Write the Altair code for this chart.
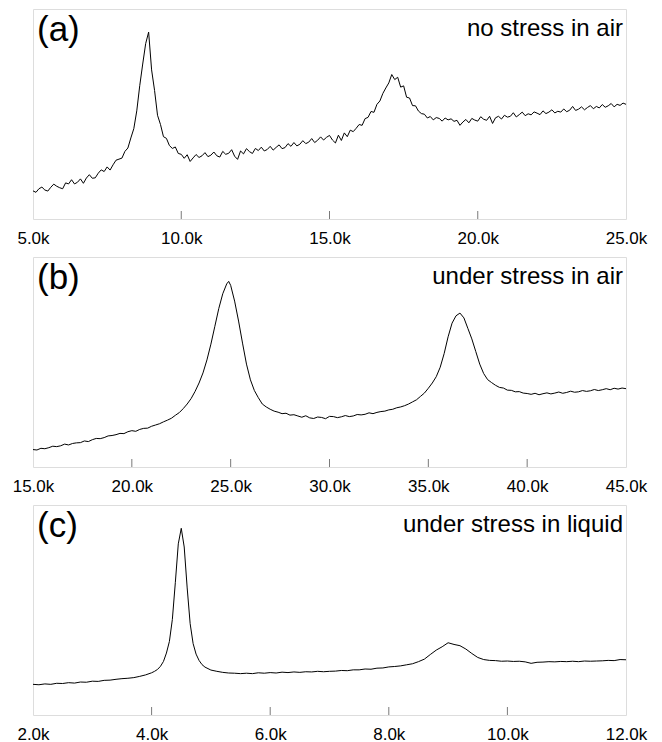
import altair as alt
import pandas as pd

# ---------------- data ----------------
# panel (a): no stress in air, x in k
a_x = [round(5.0 + 0.1 * i, 1) for i in range(201)]
a_y = [13.4, 12.7, 14.4, 15.2, 13.8, 13.3, 15.1, 16.6, 15.6, 14.9,
       14.4, 17.2, 16.7, 18.7, 16.7, 17.5, 19.1, 17.0, 19.5, 21.1,
       19.4, 19.6, 21.8, 23.4, 22.6, 24.8, 23.3, 25.8, 28.0, 28.5,
       29.0, 32.2, 33.8, 38.6, 43.0, 51.5, 63.5, 73.8, 83.5, 89.0,
       71.0, 61.2, 49.4, 45.0, 39.2, 38.4, 35.0, 33.6, 34.3, 31.2,
       30.8, 28.9, 30.6, 27.4, 29.1, 30.7, 29.3, 30.1, 31.6, 29.7,
       30.4, 31.9, 30.1, 29.5, 32.2, 30.8, 31.3, 33.0, 29.9, 28.4,
       32.4, 31.0, 33.5, 32.1, 31.2, 33.6, 32.6, 34.2, 32.4, 33.1,
       34.6, 32.8, 34.1, 35.3, 33.5, 34.0, 35.9, 34.6, 36.4, 34.8,
       35.6, 37.3, 35.9, 36.6, 38.3, 36.4, 37.5, 39.1, 37.6, 38.9,
       39.8, 37.6, 36.2, 39.9, 37.4, 41.0, 39.2, 42.3, 41.6, 43.2,
       45.0, 44.6, 47.8, 48.4, 51.2, 50.8, 54.6, 56.2, 59.8, 62.4,
       64.8, 68.8, 66.4, 67.5, 62.8, 63.4, 58.0, 57.6, 54.0, 53.9,
       51.4, 50.2, 49.9, 48.1, 48.8, 47.2, 48.3, 47.9, 46.6, 48.1,
       47.2, 47.7, 46.5, 47.0, 44.6, 46.2, 47.4, 45.8, 47.9, 47.1,
       46.6, 48.7, 47.5, 47.0, 48.9, 45.5, 48.2, 48.9, 47.6, 49.4,
       48.5, 48.9, 50.6, 48.6, 49.7, 50.9, 49.2, 50.1, 49.6, 51.0,
       50.4, 49.7, 51.5, 50.2, 50.9, 52.0, 50.5, 51.3, 50.9, 52.4,
       51.1, 51.8, 53.6, 51.7, 52.3, 53.4, 52.0, 53.1, 54.0, 52.5,
       53.6, 52.9, 54.5, 53.2, 53.9, 55.0, 53.4, 54.6, 54.1, 55.2,
       54.6]

# panel (b): under stress in air
b_x = [15.0, 15.2, 15.4, 15.6, 15.8, 16.0, 16.2, 16.4, 16.6, 16.8,
       17.0, 17.2, 17.4, 17.6, 17.8, 18.0, 18.2, 18.4, 18.6, 18.8,
       19.0, 19.2, 19.4, 19.6, 19.8, 20.0, 20.2, 20.4, 20.6, 20.8,
       21.0, 21.2, 21.4, 21.6, 21.8, 22.0, 22.2, 22.4, 22.6, 22.8,
       23.0, 23.2, 23.4, 23.6, 23.8, 24.0, 24.2, 24.4, 24.6, 24.8,
       24.9, 25.0, 25.2, 25.4, 25.6, 25.8, 26.0, 26.2, 26.4, 26.6,
       26.8, 27.0, 27.2, 27.4, 27.6, 27.8, 28.0, 28.2, 28.4, 28.6,
       28.8, 29.0, 29.2, 29.4, 29.6, 29.8, 30.0, 30.2, 30.4, 30.6,
       30.8, 31.0, 31.2, 31.4, 31.6, 31.8, 32.0, 32.2, 32.4, 32.6,
       32.8, 33.0, 33.2, 33.4, 33.6, 33.8, 34.0, 34.2, 34.4, 34.6,
       34.8, 35.0, 35.2, 35.4, 35.6, 35.8, 36.0, 36.2, 36.4, 36.6,
       36.8, 37.0, 37.2, 37.4, 37.6, 37.8, 38.0, 38.2, 38.4, 38.6,
       38.8, 39.0, 39.2, 39.4, 39.6, 39.8, 40.0, 40.2, 40.4, 40.6,
       40.8, 41.0, 41.2, 41.4, 41.6, 41.8, 42.0, 42.2, 42.4, 42.6,
       42.8, 43.0, 43.2, 43.4, 43.6, 43.8, 44.0, 44.2, 44.4, 44.6,
       44.8, 45.0]
b_y = [8.3, 8.1, 8.9, 8.7, 9.2, 9.9, 9.7, 10.1, 10.9, 10.5,
       11.2, 11.5, 11.6, 12.4, 12.1, 13.0, 13.6, 13.5, 14.0, 14.8,
       15.0, 15.4, 16.0, 15.9, 16.8, 17.3, 17.0, 17.9, 18.4, 18.5,
       19.4, 20.0, 20.6, 21.5, 22.3, 23.2, 24.6, 25.9, 27.8, 30.0,
       32.6, 36.0, 40.0, 44.8, 51.0, 58.5, 67.0, 75.5, 82.5, 87.2,
       88.4, 86.5, 79.0, 69.5, 59.0, 49.0, 41.5, 36.4, 33.0, 30.0,
       28.6, 27.5, 26.6, 26.1, 25.4, 25.6, 24.7, 24.9, 24.3, 23.7,
       24.4, 23.4, 23.1, 23.8, 23.6, 23.0, 24.1, 24.0, 23.5, 23.9,
       24.5, 24.0, 24.3, 25.0, 24.8, 25.1, 25.8, 25.4, 26.0, 26.4,
       26.6, 27.2, 27.5, 28.2, 28.6, 29.2, 30.0, 31.0, 32.0, 33.6,
       35.2, 37.5, 40.0, 43.0, 47.5, 54.0, 62.0, 68.5, 72.0, 73.3,
       71.0, 66.0, 61.0, 55.0, 49.0, 44.5, 41.6, 40.2, 38.9, 37.9,
       37.6, 36.6, 36.5, 35.8, 35.9, 35.2, 35.0, 34.6, 35.1, 34.4,
       34.9, 35.3, 34.8, 35.2, 35.7, 35.1, 35.5, 36.1, 35.6, 35.8,
       36.4, 36.0, 36.3, 36.9, 36.4, 36.8, 37.3, 36.8, 37.5, 37.1,
       37.6, 37.3]

# panel (c): under stress in liquid
c_x = [2.0, 2.1, 2.2, 2.3, 2.4, 2.5, 2.6, 2.7, 2.8, 2.9,
       3.0, 3.1, 3.2, 3.3, 3.4, 3.5, 3.6, 3.7, 3.8, 3.9,
       4.0, 4.05, 4.1, 4.15, 4.2, 4.25, 4.3, 4.35, 4.4, 4.45,
       4.5, 4.55, 4.6, 4.65, 4.7, 4.75, 4.8, 4.85, 4.9, 5.0,
       5.1, 5.2, 5.3, 5.4, 5.5, 5.6, 5.7, 5.8, 5.9, 6.0,
       6.1, 6.2, 6.3, 6.4, 6.5, 6.6, 6.7, 6.8, 6.9, 7.0,
       7.1, 7.2, 7.3, 7.4, 7.5, 7.6, 7.7, 7.8, 7.9, 8.0,
       8.1, 8.2, 8.3, 8.4, 8.5, 8.6, 8.7, 8.8, 8.9, 9.0,
       9.1, 9.2, 9.3, 9.4, 9.5, 9.6, 9.7, 9.8, 9.9, 10.0,
       10.1, 10.2, 10.3, 10.4, 10.5, 10.6, 10.7, 10.8, 10.9, 11.0,
       11.1, 11.2, 11.3, 11.4, 11.5, 11.6, 11.7, 11.8, 11.9, 12.0]
c_y = [14.6, 14.4, 14.8, 14.6, 15.1, 15.0, 15.4, 15.2, 15.7, 15.6,
       16.1, 16.0, 16.5, 16.6, 17.0, 17.3, 17.5, 17.8, 18.4, 19.1,
       20.1, 20.8, 21.7, 23.2, 25.5, 29.5, 35.0, 45.5, 63.0, 81.5,
       88.9, 80.0, 60.5, 43.5, 34.0, 29.0, 26.0, 24.0, 22.8, 21.4,
       20.8, 20.3, 20.0, 19.9, 19.7, 19.9, 19.7, 20.1, 19.9, 20.2,
       20.0, 20.4, 20.2, 20.5, 20.3, 20.6, 20.5, 20.8, 20.6, 20.8,
       20.9, 21.2, 21.1, 21.5, 21.5, 21.9, 21.8, 22.3, 22.4, 22.9,
       23.1, 23.4, 23.9, 24.4, 25.4, 26.6, 28.8, 30.9, 32.5, 34.4,
       33.6, 33.0, 31.4, 29.3, 27.4, 26.4, 26.0, 25.9, 25.6, 25.7,
       25.5, 25.6, 25.3, 24.6, 25.1, 25.2, 25.4, 25.3, 25.5, 25.4,
       25.6, 25.4, 25.7, 25.6, 25.7, 25.8, 26.0, 25.9, 26.4, 26.3]

a_ticks = [5, 10, 15, 20, 25]
b_ticks = [15, 20, 25, 30, 35, 40, 45]
c_ticks = [2, 4, 6, 8, 10, 12]

panel_tags = ["(a)", "(b)", "(c)"]
panel_notes = ["no stress in air", "under stress in air", "under stress in liquid"]

FONT = "Liberation Sans"
W, H = 593, 210
GRAY = "#8c8c8c"


def panel(xs, ys, ticks, tag, note):
    df = pd.DataFrame({"x": xs, "y": ys})
    xscale = alt.Scale(domain=[ticks[0], ticks[-1]], nice=False, zero=False)
    xenc = alt.X(
        "x:Q",
        scale=xscale,
        axis=alt.Axis(
            title=None, values=ticks, labelExpr="format(datum.value, '.1f') + 'k'",
            labelFlush=False, domain=False, grid=False, ticks=False, tickSize=0,
            labelFontSize=17, labelFont=FONT,
            labelColor="black", labelPadding=11, labelOverlap=False,
        ),
    )
    yenc = alt.Y("y:Q", scale=alt.Scale(domain=[0, 100], nice=False), axis=None)
    line = alt.Chart(df).mark_line(color="black", strokeWidth=1).encode(x=xenc, y=yenc)
    tick_df = pd.DataFrame({"t": ticks[1:-1]})
    tick_marks = alt.Chart(tick_df).mark_rule(color="#7a7a7a", strokeWidth=1).encode(
        x=alt.X("t:Q", scale=xscale), y=alt.value(H - 8), y2=alt.value(H)
    )
    tag_df = pd.DataFrame({"t": [tag]})
    note_df = pd.DataFrame({"t": [note]})
    tag_txt = alt.Chart(tag_df).mark_text(
        font=FONT, fontSize=35, align="left", baseline="alphabetic", color="black"
    ).encode(x=alt.value(4), y=alt.value(32), text="t:N")
    note_txt = alt.Chart(note_df).mark_text(
        font=FONT, fontSize=24, align="right", baseline="alphabetic", color="black"
    ).encode(x=alt.value(W - 3), y=alt.value(27), text="t:N")
    return alt.layer(line, tick_marks, tag_txt, note_txt).properties(width=W, height=H)


pa = panel(a_x, a_y, a_ticks, panel_tags[0], panel_notes[0])
pb = panel(b_x, b_y, b_ticks, panel_tags[1], panel_notes[1])
pc = panel(c_x, c_y, c_ticks, panel_tags[2], panel_notes[2])

chart = alt.vconcat(pa, pb, pc, spacing=38, bounds="flush").properties(
    padding={"left": 3, "top": 0, "right": 5, "bottom": 5}
).configure_view(stroke=GRAY, strokeWidth=1).configure(background="white")

chart.save("out.html", embed_options={"renderer": "svg", "actions": False})
